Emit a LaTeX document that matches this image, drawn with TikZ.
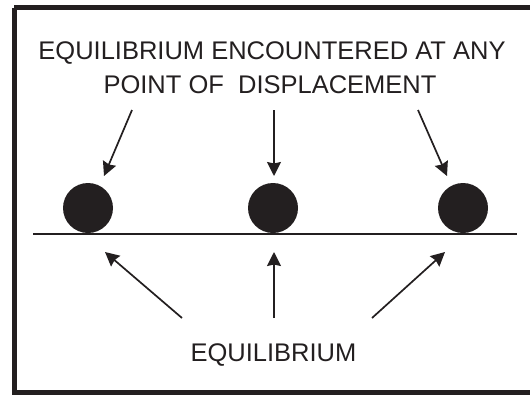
\documentclass[tikz,border=0pt]{standalone}
\usepackage{fontspec}
\setmainfont{Liberation Sans}
\usetikzlibrary{arrows.meta}
\definecolor{ink}{HTML}{231F20}
\begin{document}
\begin{tikzpicture}[x=1pt,y=-1pt,
  lbl/.style={inner sep=0pt,anchor=base,text=ink,font=\fontsize{25.5}{30}\selectfont},
  ball/.style={circle,fill=ink,minimum size=50pt,inner sep=0pt},
  arr/.style={draw=ink,line width=1.7pt,-{Stealth[length=14pt,width=14pt,inset=1.5pt]}},
  frame/.style={draw=ink,line width=5pt}]
\useasboundingbox (0,0) rectangle (530,394);
\draw[frame] (14,7.5) -- (540,7.5);
\draw[frame] (14,7.5) -- (14,392.5) -- (540,392.5);
% texts
\node[lbl] (t1) at (272,59) {EQUILIBRIUM ENCOUNTERED AT ANY};
\node[lbl] (t2) at (270,93) {POINT OF\ \ DISPLACEMENT};
\node[lbl] (t3) at (273.5,361) {EQUILIBRIUM};
% balls
\node[ball] (b1) at (88,208) {};
\node[ball] (b2) at (273,208) {};
\node[ball] (b3) at (463,208) {};
% ground
\coordinate (g1) at (33,234);
\coordinate (g2) at (517,234);
\draw[draw=ink,line width=2.6pt] (g1) -- (g2);
% top arrows
\coordinate (a1s) at (132,110); \coordinate (a1e) at (104,176);
\coordinate (a2s) at (274,110); \coordinate (a2e) at (274,176);
\coordinate (a3s) at (418,110); \coordinate (a3e) at (447,176);
\draw[arr] (a1s) -- (a1e);
\draw[arr] (a2s) -- (a2e);
\draw[arr] (a3s) -- (a3e);
% bottom arrows
\coordinate (c1s) at (182,318); \coordinate (c1e) at (105,252);
\coordinate (c2s) at (274,318); \coordinate (c2e) at (274,252);
\coordinate (c3s) at (372,318); \coordinate (c3e) at (445,252);
\draw[arr] (c1s) -- (c1e);
\draw[arr] (c2s) -- (c2e);
\draw[arr] (c3s) -- (c3e);
\end{tikzpicture}
\end{document}
